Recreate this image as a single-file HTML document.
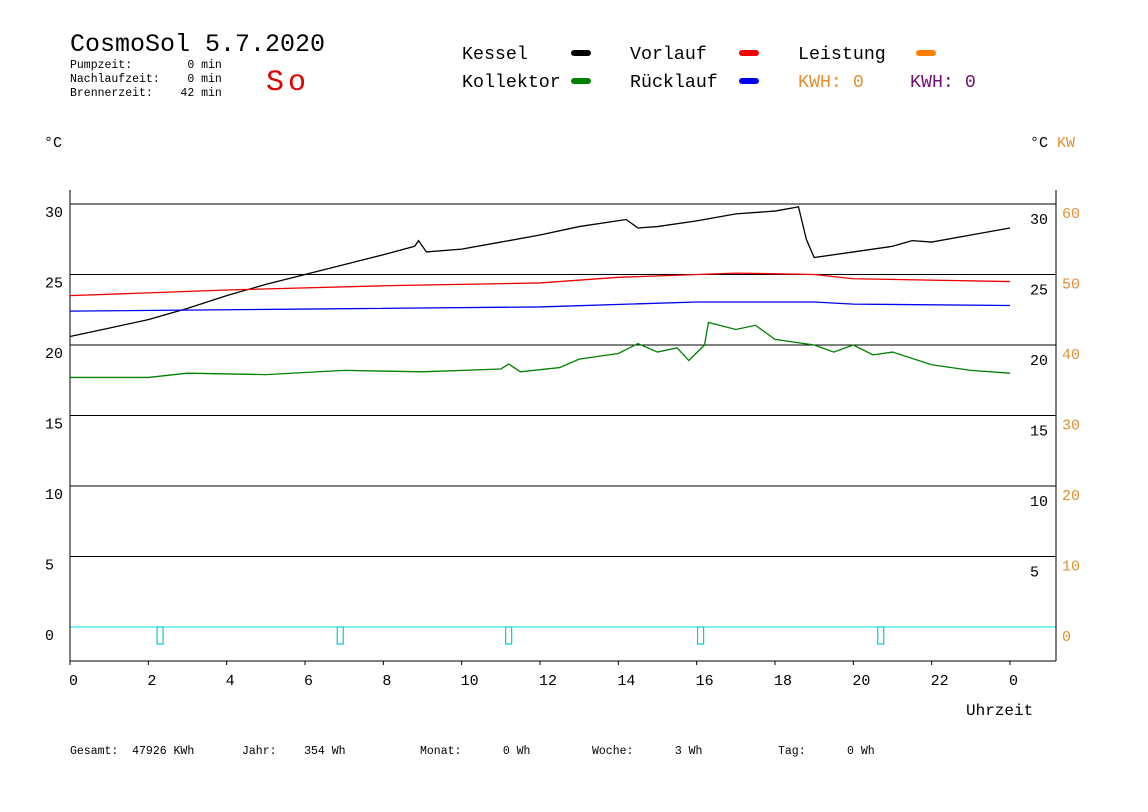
<!DOCTYPE html>
<html><head><meta charset="utf-8"><style>
body{margin:0;background:#fff}
svg{display:block}
text{font-family:"Liberation Mono",monospace}
</style></head><body>
<svg id="chart" width="1148" height="812" viewBox="0 0 1148 812" xmlns="http://www.w3.org/2000/svg">
<rect width="1148" height="812" fill="#fff"/>
<text x="70" y="51" font-size="25">CosmoSol 5.7.2020</text>
<text x="70" y="68" font-size="11.5" xml:space="preserve">Pumpzeit:        0 min</text>
<text x="70" y="82" font-size="11.5" xml:space="preserve">Nachlaufzeit:    0 min</text>
<text x="70" y="96" font-size="11.5" xml:space="preserve">Brennerzeit:    42 min</text>
<text x="266" y="90" font-size="30" fill="#e00000" letter-spacing="4">So</text>
<g font-size="18.3">
<text x="462" y="59">Kessel</text><rect x="571" y="50" width="20" height="6" rx="3" fill="#000"/>
<text x="630" y="59">Vorlauf</text><rect x="739" y="50" width="20" height="6" rx="3" fill="#f00000"/>
<text x="798" y="59">Leistung</text><rect x="916" y="50" width="20" height="6" rx="3" fill="#ff8000"/>
<text x="462" y="87">Kollektor</text><rect x="571" y="78" width="20" height="6" rx="3" fill="#008000"/>
<text x="630" y="87">Rücklauf</text><rect x="739" y="78" width="20" height="6" rx="3" fill="#0000f0"/>
<text x="798" y="87" fill="#e09030">KWH: 0</text>
<text x="910" y="87" fill="#701070">KWH: 0</text>
</g>
<text x="44" y="147" font-size="15">°C</text>
<text x="1030" y="147" font-size="15">°C <tspan fill="#e09030">KW</tspan></text>
<text x="966" y="715" font-size="16">Uhrzeit</text>
<g font-size="11.5">
<text x="70" y="754" xml:space="preserve">Gesamt:  47926 KWh</text>
<text x="242" y="754" xml:space="preserve">Jahr:    354 Wh</text>
<text x="420" y="754" xml:space="preserve">Monat:      0 Wh</text>
<text x="592" y="754" xml:space="preserve">Woche:      3 Wh</text>
<text x="778" y="754" xml:space="preserve">Tag:      0 Wh</text>
</g>
<g id="plot"></g>
</svg>
<script>
const hoursTicks=[0,2,4,6,8,10,12,14,16,18,20,22,24];
const hourLabels=["0","2","4","6","8","10","12","14","16","18","20","22","0"];
const tempTicks=[0,5,10,15,20,25,30];
const kwTicks=[0,10,20,30,40,50,60];
const kesselH=[0,1,2,3,4,5,6,7,8,8.8,8.9,9.1,10,11,12,13,14.2,14.5,15,16,17,18,18.6,18.8,19,20,21,21.5,22,23,24];
const kesselV=[20.6,21.2,21.8,22.6,23.5,24.3,25.0,25.7,26.4,27.0,27.4,26.6,26.8,27.3,27.8,28.4,28.9,28.3,28.4,28.8,29.3,29.5,29.8,27.5,26.2,26.6,27.0,27.4,27.3,27.8,28.3];
const vorlaufH=[0,4,8,12,14,17,19,20,24];
const vorlaufV=[23.5,23.9,24.2,24.4,24.8,25.1,25.0,24.7,24.5];
const ruecklaufH=[0,6,12,16,19,20,24];
const ruecklaufV=[22.4,22.55,22.7,23.05,23.05,22.9,22.8];
const kollektorH=[0,2,3,5,7,9,11,11.2,11.5,12.5,13,14,14.5,15,15.5,15.8,16.2,16.3,17,17.5,18,19,19.5,20,20.5,21,22,23,24];
const kollektorV=[17.7,17.7,18.0,17.9,18.2,18.1,18.3,18.65,18.1,18.4,19.0,19.4,20.1,19.5,19.8,18.9,20.0,21.6,21.1,21.4,20.4,20.0,19.5,20.0,19.3,19.5,18.6,18.2,18.0];
const pulseH=[2.3,6.9,11.2,16.1,20.7];

const X0=70,X1=1010,Y0=627,PY=14.1;
const x=h=>X0+h*(X1-X0)/24;
const y=t=>Y0-t*PY;
const yk=k=>Y0-k*PY/2;
const NS="http://www.w3.org/2000/svg";
const plot=document.getElementById('plot');
function mk(tag,attrs){const e=document.createElementNS(NS,tag);for(const k in attrs)e.setAttribute(k,attrs[k]);plot.appendChild(e);return e;}

tempTicks.forEach((t,i)=>{
  const g=mk('line',{x1:X0,x2:1056,y1:y(t),y2:y(t),stroke:t===0?'#00e0e0':'#000','stroke-width':1});
  
  
  const l=mk('text',{x:45,y:y(t)+13,'font-size':15});l.textContent=t;
  
  
  if(t>0){const r=mk('text',{x:1030,y:y(t)+20,'font-size':15});r.textContent=t;
  
  }
});
kwTicks.forEach(k=>{
  const r=mk('text',{x:1062,y:yk(k)+14,'font-size':15,fill:'#e09030'});r.textContent=k;
  
  
});
let a=mk('line',{x1:X0,x2:X0,y1:190,y2:661,stroke:'#000'});


a=mk('line',{x1:1056,x2:1056,y1:190,y2:661,stroke:'#000'});


a=mk('line',{x1:X0,x2:1056,y1:661,y2:661,stroke:'#000'});


hoursTicks.forEach((h,i)=>{
  mk('line',{x1:x(h),x2:x(h),y1:661,y2:665,stroke:'#000'});
  const t=mk('text',{x:x(h)-1,y:685,'font-size':15});t.textContent=hourLabels[i];
  
  
});
function series(H,V,color,name){
  const p=mk('polyline',{points:H.map((h,i)=>x(h)+','+y(V[i])).join(' '),fill:'none',stroke:color,'stroke-width':1.3});
  
  
}
series(kesselH,kesselV,'#000','kessel-line');
series(vorlaufH,vorlaufV,'#f00000','vorlauf-line');
series(ruecklaufH,ruecklaufV,'#0000f0','ruecklauf-line');
series(kollektorH,kollektorV,'#008000','kollektor-line');
pulseH.forEach(h=>{
  const r=mk('rect',{x:x(h)-3,y:Y0,width:6,height:17,fill:'none',stroke:'#00d0d0','stroke-width':1.2});
  
  
});
</script>
</body></html>
